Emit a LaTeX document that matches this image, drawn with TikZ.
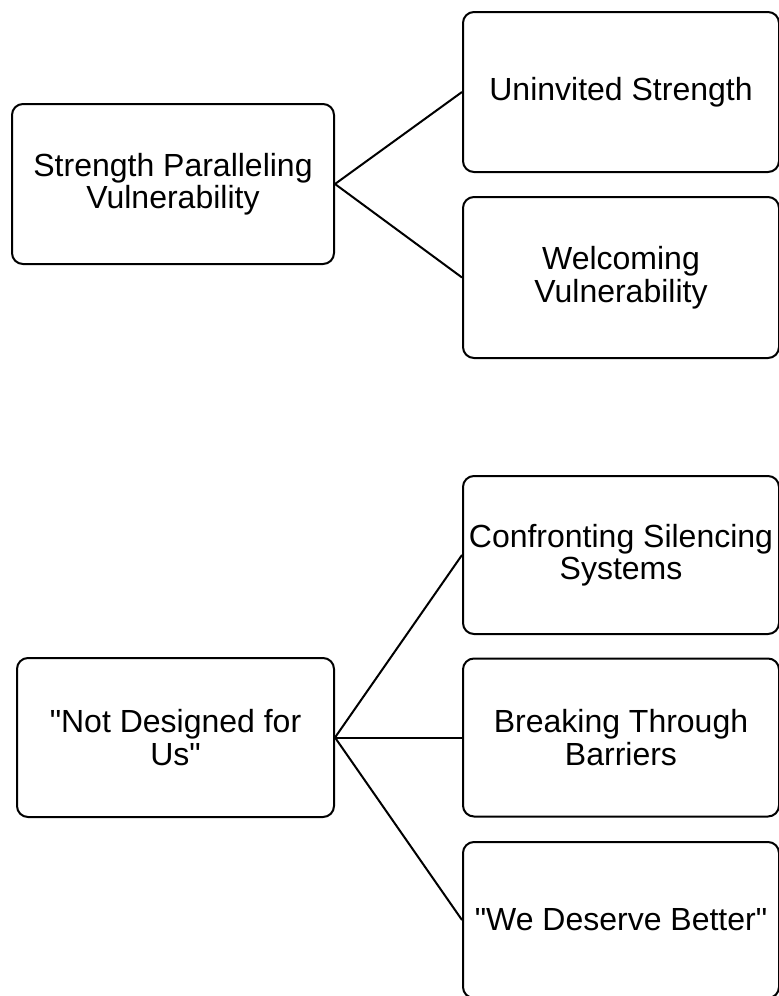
\documentclass[tikz,border=0pt]{standalone}
\usepackage{fontspec}
\setmainfont{Liberation Sans}[Ligatures=TeXOff]
\usepackage{tikz}

\begin{document}
\begin{tikzpicture}[x=1pt, y=-1pt,
		box/.style={draw, line width=2pt, rounded corners=11pt, align=center, inner sep=0pt, font=\fontsize{32}{32.5}\selectfont},
		link/.style={line width=2pt}]
		\useasboundingbox (0, 0) rectangle (779, 996);
		\node[box, minimum width=322pt, minimum height=160pt] (strength) at (173, 184) {Strength Paralleling\\Vulnerability};
		\node[box, minimum width=316pt, minimum height=160pt] (uninvited) at (621, 92) {Uninvited Strength};
		\node[box, minimum width=316pt, minimum height=161pt] (welcoming) at (621, 277.5) {Welcoming\\Vulnerability};
		\node[box, minimum width=317pt, minimum height=159pt] (notdesigned) at (175.5, 737.5) {"Not Designed for\\Us"};
		\node[box, minimum width=316pt, minimum height=158pt] (confronting) at (621, 555) {Confronting Silencing\\Systems};
		\node[box, minimum width=316pt, minimum height=158pt] (breaking) at (621, 737.5) {Breaking Through\\Barriers};
		\node[box, minimum width=316pt, minimum height=156pt] (deserve) at (621, 920) {"We Deserve Better"};
		\draw[link] (strength.east) to (uninvited.west);
		\draw[link] (strength.east) to (welcoming.west);
		\draw[link] (notdesigned.east) to (confronting.west);
		\draw[link] (notdesigned.east) to (breaking.west);
		\draw[link] (notdesigned.east) to (deserve.west);
	\end{tikzpicture}
\end{document}
